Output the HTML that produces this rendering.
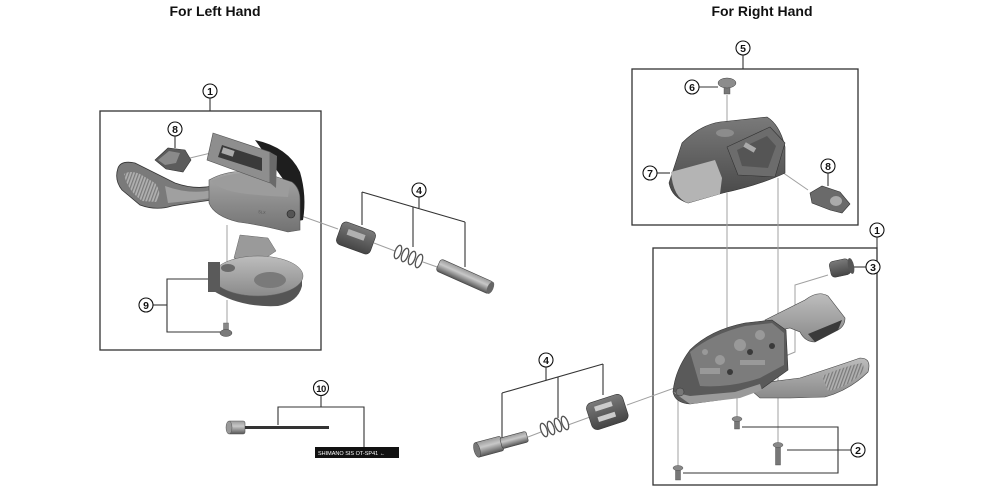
<!DOCTYPE html>
<html><head><meta charset="utf-8"><style>
html,body{margin:0;padding:0;background:#fff;}
svg{display:block;}
text{font-family:"Liberation Sans",Arial,sans-serif;}
</style></head><body>
<svg width="1000" height="500" viewBox="0 0 1000 500" xmlns="http://www.w3.org/2000/svg">
<defs>
<linearGradient id="gBody" x1="0" y1="0" x2="0" y2="1"><stop offset="0" stop-color="#a8a8a8"/><stop offset="1" stop-color="#727272"/></linearGradient>
<linearGradient id="gLight" x1="0" y1="0" x2="0" y2="1"><stop offset="0" stop-color="#bdbdbd"/><stop offset="1" stop-color="#8a8a8a"/></linearGradient>
<linearGradient id="gDark" x1="0" y1="0" x2="0" y2="1"><stop offset="0" stop-color="#7a7a7a"/><stop offset="1" stop-color="#454545"/></linearGradient>
<linearGradient id="gCyl" x1="0" y1="0" x2="0" y2="1"><stop offset="0" stop-color="#9a9a9a"/><stop offset="0.4" stop-color="#c8c8c8"/><stop offset="1" stop-color="#555"/></linearGradient>
<pattern id="grip" width="3" height="3" patternUnits="userSpaceOnUse" patternTransform="rotate(20)"><rect width="3" height="3" fill="#b0b0b0"/><rect width="1.2" height="3" fill="#7a7a7a"/></pattern>
</defs>

<!-- Titles -->
<text x="215" y="16" font-size="14" font-weight="bold" text-anchor="middle" fill="#111">For Left Hand</text>
<text x="762" y="16" font-size="14" font-weight="bold" text-anchor="middle" fill="#111">For Right Hand</text>

<!-- Boxes -->
<g fill="none" stroke="#333" stroke-width="1.3">
<rect x="100" y="111" width="221" height="239"/>
<rect x="632" y="69" width="226" height="156"/>
<rect x="653" y="248" width="224" height="237"/>
</g>

<!-- thin part lines -->
<g stroke="#a0a0a0" stroke-width="1" fill="none">
<line x1="190" y1="158" x2="215" y2="152"/>
<line x1="227" y1="225" x2="227" y2="268"/>
<line x1="227" y1="300" x2="227" y2="325"/>
<line x1="293" y1="213" x2="338" y2="229"/>
<line x1="374" y1="243" x2="395" y2="251"/>
<line x1="423" y1="262" x2="440" y2="268"/>
<line x1="528" y1="437" x2="541" y2="432"/>
<line x1="568" y1="425" x2="590" y2="417"/>
<line x1="627" y1="405" x2="680" y2="386"/>
<line x1="727" y1="95" x2="727" y2="130"/>
<line x1="750" y1="150" x2="808" y2="190"/>
<line x1="727" y1="193" x2="727" y2="337"/>
<line x1="778" y1="178" x2="778" y2="445"/>
<polyline points="828,275 795,285 795,352 783,357"/>
<line x1="737" y1="398" x2="737" y2="420"/>
<line x1="678" y1="400" x2="678" y2="468"/>
</g>

<!-- leader lines -->
<g stroke="#333" stroke-width="1.1" fill="none">
<line x1="210" y1="98" x2="210" y2="111"/>
<line x1="175" y1="136" x2="175" y2="148"/>
<line x1="153" y1="305" x2="167" y2="305"/>
<polyline points="209,279 167,279 167,332 221,332"/>
<line x1="419" y1="197" x2="419" y2="208"/>
<line x1="362" y1="192" x2="465" y2="222"/>
<line x1="362" y1="192" x2="362" y2="225"/>
<line x1="413" y1="207" x2="413" y2="247"/>
<line x1="465" y1="222" x2="465" y2="267"/>
<line x1="321" y1="395" x2="321" y2="407"/>
<polyline points="278,425 278,407 364,407 364,450"/>
<line x1="743" y1="55" x2="743" y2="69"/>
<line x1="699" y1="87" x2="718" y2="87"/>
<line x1="657" y1="173" x2="670" y2="173"/>
<line x1="828" y1="173" x2="828" y2="186"/>
<line x1="877" y1="237" x2="877" y2="248"/>
<line x1="866" y1="267" x2="853" y2="267"/>
<line x1="546" y1="367" x2="546" y2="380"/>
<line x1="502" y1="393" x2="603" y2="364"/>
<line x1="502" y1="393" x2="502" y2="438"/>
<line x1="558" y1="377" x2="558" y2="418"/>
<line x1="603" y1="364" x2="603" y2="395"/>
<line x1="787" y1="450" x2="851" y2="450"/>
<polyline points="742,427 838,427 838,473 683,473"/>
</g>

<!-- ============ LEFT HAND PARTS ============ -->
<!-- lever -->
<path d="M118,168 Q121,160 135,163 L175,183 Q195,190 212,186 L212,200 Q190,203 172,206 Q156,211 140,205 L122,190 Q114,180 118,168 Z" fill="#7a7a7a" stroke="#333" stroke-width="0.8"/>
<path d="M124,174 Q130,170 140,174 L155,183 Q163,193 156,202 L142,201 Q127,190 124,174 Z" fill="url(#grip)"/>
<path d="M165,186 Q190,195 212,190 L212,198 Q190,201 168,203 Z" fill="#a0a0a0"/>
<!-- black back -->
<path d="M255,140 Q288,147 300,172 Q307,196 303,220 L293,222 L288,186 Z" fill="#1e1e1e"/>
<!-- body -->
<path d="M209,180 Q230,168 262,172 L292,182 Q300,188 300,200 L300,230 L288,232 Q262,225 238,222 Q214,216 209,203 Z" fill="url(#gBody)" stroke="#555" stroke-width="0.6"/>
<path d="M211,181 Q232,171 262,173 L290,183 L288,197 Q262,196 240,193 Q220,190 211,181 Z" fill="#9c9c9c"/>
<text x="258" y="213" font-size="4" fill="#555" transform="rotate(8 258 213)">SLX</text>
<circle cx="291" cy="214" r="4" fill="#555" stroke="#222" stroke-width="0.6"/>
<!-- clamp frame -->
<polygon points="213,133 270,152 270,183 207,160" fill="#8e8e8e" stroke="#555" stroke-width="0.6"/>
<polygon points="222,145 262,158 262,171 218,157" fill="#3a3a3a"/>
<polygon points="270,152 277,156 276,188 270,183" fill="#6a6a6a"/>
<rect x="222" y="149" width="12" height="6" fill="#aaa" transform="rotate(18 228 152)"/>
<!-- part 8 left -->
<polygon points="155,160 168,148 185,150 191,160 183,172 166,169" fill="#5c5c5c" stroke="#333" stroke-width="0.6"/>
<polygon points="158,160 169,151 180,153 176,163 165,165" fill="#8a8a8a"/>
<!-- ring 9 -->
<polygon points="240,235 268,238 276,251 258,263 234,258" fill="#9a9a9a" stroke="#666" stroke-width="0.5"/>
<path d="M212,270 L212,290 Q240,308 278,306 Q298,302 302,286 L302,276 Z" fill="#555"/>
<ellipse cx="258" cy="276" rx="45" ry="20" fill="url(#gLight)" stroke="#666" stroke-width="0.5"/>
<rect x="208" y="262" width="12" height="30" fill="#5a5a5a"/>
<ellipse cx="270" cy="280" rx="16" ry="8" fill="#7a7a7a"/>
<ellipse cx="228" cy="268" rx="7" ry="4" fill="#6a6a6a"/>
<!-- screw 9 -->
<rect x="223.5" y="323" width="5" height="8" fill="#888" stroke="#555" stroke-width="0.4"/>
<ellipse cx="226" cy="333" rx="6" ry="3.5" fill="#7a7a7a" stroke="#444" stroke-width="0.5"/>

<!-- part 4 left -->
<g transform="rotate(20 356 238)">
<rect x="338" y="226" width="36" height="24" rx="5" fill="url(#gDark)" stroke="#333" stroke-width="0.6"/>
<rect x="346" y="232" width="18" height="6" fill="#b0b0b0"/>
</g>
<g fill="none" stroke="#555" stroke-width="1.3">
<ellipse cx="398" cy="252" rx="3" ry="7" transform="rotate(20 398 252)"/>
<ellipse cx="405" cy="255" rx="3" ry="7" transform="rotate(20 405 255)"/>
<ellipse cx="412" cy="258" rx="3" ry="7" transform="rotate(20 412 258)"/>
<ellipse cx="419" cy="261" rx="3" ry="7" transform="rotate(20 419 261)"/>
</g>
<g transform="rotate(24 465 276)">
<rect x="436" y="270" width="58" height="13" rx="3" fill="url(#gCyl)" stroke="#444" stroke-width="0.6"/>
<ellipse cx="493" cy="276.5" rx="3" ry="6.5" fill="#666"/>
</g>

<!-- part 10 cable -->
<rect x="228" y="421" width="17" height="13" rx="2" fill="url(#gCyl)" stroke="#555" stroke-width="0.6"/>
<ellipse cx="229" cy="427.5" rx="3" ry="6.5" fill="#999" stroke="#555" stroke-width="0.5"/>
<rect x="245" y="426" width="84" height="3" fill="#333"/>
<rect x="315" y="447" width="84" height="11" fill="#111"/>
<text x="318" y="455" font-size="5.5" fill="#fff">SHIMANO SIS  OT-SP41 ←</text>

<!-- ============ RIGHT HAND PARTS ============ -->
<!-- part 4 right -->
<g transform="rotate(-15 501 443)">
<rect x="475" y="436" width="27" height="15" rx="2" fill="url(#gCyl)" stroke="#444" stroke-width="0.6"/>
<rect x="501" y="438" width="27" height="11" rx="2" fill="url(#gCyl)" stroke="#444" stroke-width="0.6"/>
<ellipse cx="476" cy="443.5" rx="3" ry="7.5" fill="#777" stroke="#444" stroke-width="0.5"/>
</g>
<g fill="none" stroke="#555" stroke-width="1.3">
<ellipse cx="544" cy="430" rx="3" ry="7" transform="rotate(-20 544 430)"/>
<ellipse cx="551" cy="428" rx="3" ry="7" transform="rotate(-20 551 428)"/>
<ellipse cx="558" cy="425" rx="3" ry="7" transform="rotate(-20 558 425)"/>
<ellipse cx="565" cy="423" rx="3" ry="7" transform="rotate(-20 565 423)"/>
</g>
<g transform="rotate(-18 607 411)">
<rect x="588" y="398" width="38" height="28" rx="6" fill="url(#gDark)" stroke="#333" stroke-width="0.6"/>
<rect x="596" y="403" width="18" height="5" fill="#ccc"/>
<rect x="596" y="414" width="18" height="5" fill="#ccc"/>
</g>

<!-- upper box: cover -->
<path d="M669,183 L682,143 Q700,125 720,122 L767,117 Q780,125 785,147 L785,173 Q760,185 723,193 L688,203 Q672,198 669,183 Z" fill="url(#gDark)" stroke="#333" stroke-width="0.6"/>
<path d="M671,172 L715,160 L722,178 L720,194 L688,203 Q673,198 671,172 Z" fill="#b4b4b4"/>
<ellipse cx="725" cy="133" rx="9" ry="4" fill="#8c8c8c"/>
<polygon points="727,147 770,127 785,143 775,177 738,175" fill="#6c6c6c" stroke="#333" stroke-width="0.6"/>
<polygon points="737,150 767,136 776,146 768,168 742,166" fill="#555"/>
<rect x="744" y="145" width="12" height="5" fill="#aaa" transform="rotate(30 750 147)"/>
<!-- screw 6 -->
<rect x="724" y="84" width="6" height="10" fill="#777" stroke="#444" stroke-width="0.4"/>
<ellipse cx="727" cy="83" rx="9" ry="5" fill="#8c8c8c" stroke="#444" stroke-width="0.5"/>
<!-- part 8 right -->
<polygon points="810,193 822,186 840,192 850,204 842,213 830,210 812,203" fill="#6a6a6a" stroke="#333" stroke-width="0.6"/>
<ellipse cx="836" cy="201" rx="6" ry="5" fill="#aaa"/>

<!-- lower right main body -->
<path d="M765,320 L805,300 Q818,290 828,296 L845,318 Q845,326 838,330 L815,342 Q805,342 800,332 L790,328 L772,332 Z" fill="url(#gLight)" stroke="#444" stroke-width="0.6"/>
<polygon points="808,334 842,320 838,330 815,342" fill="#3a3a3a"/>
<path d="M745,385 L800,378 Q840,365 860,358 Q872,358 868,372 Q850,390 825,397 L790,398 L760,398 Z" fill="url(#gLight)" stroke="#444" stroke-width="0.6"/>
<path d="M822,376 Q845,366 862,363 Q866,368 860,375 Q845,388 828,391 Z" fill="url(#grip)"/>
<path d="M673,392 Q675,370 690,350 Q710,330 745,323 L772,320 L786,330 L788,370 L760,390 L720,400 L690,404 Q675,403 673,392 Z" fill="#5a5a5a" stroke="#333" stroke-width="0.6"/>
<path d="M690,352 Q712,334 745,326 L772,323 L784,333 L784,365 L760,378 Q730,388 700,386 Z" fill="#7c7c7c"/>
<g fill="#999">
<circle cx="740" cy="345" r="6"/><circle cx="760" cy="335" r="5"/><circle cx="720" cy="360" r="5"/>
<rect x="700" y="368" width="20" height="6"/><rect x="740" y="360" width="25" height="5"/><circle cx="705" cy="352" r="3"/>
</g>
<g fill="#3a3a3a"><circle cx="750" cy="352" r="3"/><circle cx="730" cy="372" r="3"/><circle cx="772" cy="346" r="3"/></g>
<path d="M673,392 L690,404 L740,398 L762,390 L760,384 L735,392 L690,396 Z" fill="#9a9a9a"/>
<circle cx="680" cy="392" r="4" fill="#777" stroke="#333" stroke-width="0.5"/>
<!-- part 3 -->
<rect x="830" y="260" width="20" height="16" rx="4" fill="url(#gDark)" stroke="#333" stroke-width="0.5" transform="rotate(-12 840 268)"/>
<ellipse cx="851" cy="266" rx="3" ry="8" fill="#555" transform="rotate(-12 851 266)"/>
<!-- screws 2 -->
<rect x="734.5" y="419" width="5" height="10" fill="#777" stroke="#444" stroke-width="0.4"/>
<ellipse cx="737" cy="419" rx="5" ry="2.5" fill="#888" stroke="#444" stroke-width="0.4"/>
<rect x="775.5" y="445" width="5" height="20" fill="#777" stroke="#444" stroke-width="0.4"/>
<ellipse cx="778" cy="445" rx="5" ry="2.5" fill="#888" stroke="#444" stroke-width="0.4"/>
<rect x="675.5" y="468" width="5" height="12" fill="#777" stroke="#444" stroke-width="0.4"/>
<ellipse cx="678" cy="468" rx="5" ry="2.5" fill="#888" stroke="#444" stroke-width="0.4"/>

<!-- circled labels -->
<g fill="#fff" stroke="#111" stroke-width="1.1">
<circle cx="210" cy="91" r="7"/><circle cx="175" cy="129" r="7"/><circle cx="146" cy="305" r="7"/>
<circle cx="419" cy="190" r="7"/><circle cx="321" cy="388" r="7.5"/>
<circle cx="743" cy="48" r="7"/><circle cx="692" cy="87" r="7"/><circle cx="650" cy="173" r="7"/>
<circle cx="828" cy="166" r="7"/><circle cx="877" cy="230" r="7"/><circle cx="873" cy="267" r="7"/>
<circle cx="546" cy="360" r="7"/><circle cx="858" cy="450" r="7"/>
</g>
<g font-size="10.5" font-weight="bold" text-anchor="middle" fill="#111">
<text x="210" y="95">1</text><text x="175" y="133">8</text><text x="146" y="309">9</text>
<text x="419" y="194">4</text><text x="321" y="392" font-size="9.5" letter-spacing="-0.5">10</text>
<text x="743" y="52">5</text><text x="692" y="91">6</text><text x="650" y="177">7</text>
<text x="828" y="170">8</text><text x="877" y="234">1</text><text x="873" y="271">3</text>
<text x="546" y="364">4</text><text x="858" y="454">2</text>
</g>
</svg>
</body></html>
